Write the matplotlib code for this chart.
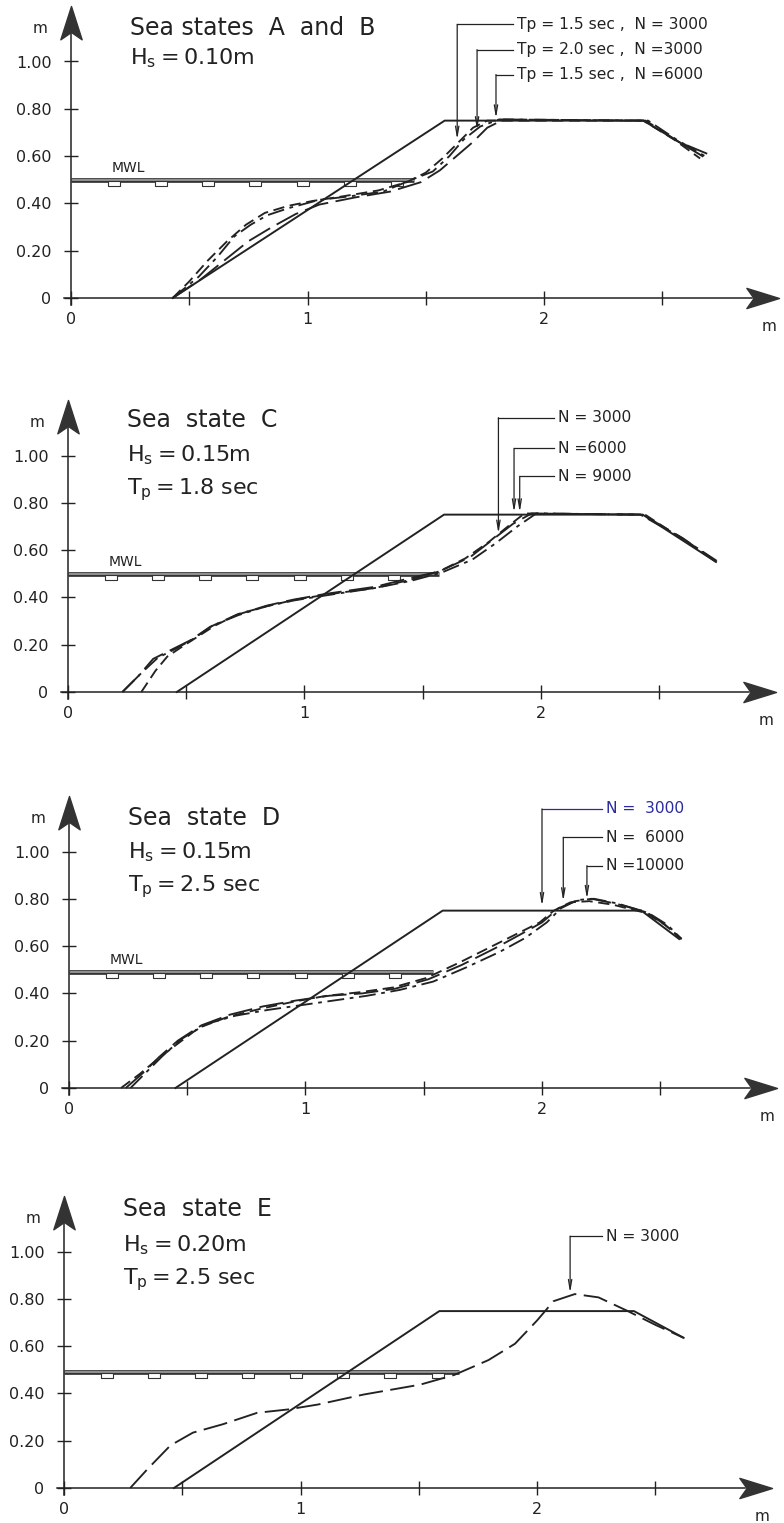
import numpy as np
import matplotlib
matplotlib.use('Agg')
import matplotlib.pyplot as plt
from matplotlib.path import Path

# ---------------- data (metres) ----------------
# Sea states A and B
ab_struct_x = [0.43, 1.58, 2.42, 2.67]
ab_struct_y = [0.0, 0.75, 0.75, 0.60]
ab_p1_x = [0.43, 0.50, 0.58, 0.66, 0.74, 0.82, 0.92, 1.02, 1.15, 1.30, 1.42, 1.50, 1.57, 1.64, 1.70, 1.76, 2.42, 2.55, 2.66]
ab_p1_y = [0.0, 0.07, 0.16, 0.24, 0.31, 0.36, 0.39, 0.41, 0.43, 0.455, 0.49, 0.53, 0.59, 0.66, 0.72, 0.75, 0.75, 0.67, 0.59]
ab_p2_x = [0.43, 0.54, 0.62, 0.69, 0.76, 0.83, 0.92, 1.05, 1.18, 1.32, 1.44, 1.53, 1.60, 1.66, 1.73, 1.81, 2.44, 2.56, 2.68]
ab_p2_y = [0.0, 0.09, 0.175, 0.26, 0.31, 0.35, 0.38, 0.415, 0.43, 0.45, 0.50, 0.535, 0.60, 0.67, 0.725, 0.755, 0.75, 0.67, 0.60]
ab_p3_x = [0.43, 0.55, 0.65, 0.75, 0.85, 0.95, 1.05, 1.20, 1.35, 1.48, 1.56, 1.63, 1.70, 1.76, 1.83, 2.43, 2.57, 2.69]
ab_p3_y = [0.0, 0.08, 0.16, 0.24, 0.30, 0.355, 0.395, 0.425, 0.45, 0.49, 0.54, 0.60, 0.66, 0.72, 0.755, 0.75, 0.66, 0.61]
ab_labels = ['Tp = 1.5 sec ,  N = 3000', 'Tp = 2.0 sec ,  N =3000', 'Tp = 1.5 sec ,  N =6000']
ab_lab_y = [1.157, 1.05, 0.945]
ab_lead_x = [1.633, 1.717, 1.797]
ab_tip_y = [0.67, 0.71, 0.76]

# Sea state C
c_struct_x = [0.46, 1.59, 2.43, 2.74]
c_struct_y = [0.0, 0.75, 0.75, 0.55]
c_p1_x = [0.23, 0.30, 0.36, 0.44, 0.52, 0.60, 0.71, 0.84, 0.95, 1.09, 1.30, 1.44, 1.57, 1.70, 1.79, 1.88, 1.96, 2.43, 2.60, 2.74]
c_p1_y = [0.0, 0.07, 0.14, 0.18, 0.22, 0.275, 0.325, 0.365, 0.39, 0.415, 0.445, 0.48, 0.51, 0.57, 0.64, 0.71, 0.755, 0.75, 0.65, 0.55]
c_p2_x = [0.31, 0.37, 0.42, 0.48, 0.55, 0.62, 0.72, 0.85, 0.96, 1.10, 1.30, 1.45, 1.57, 1.68, 1.78, 1.86, 1.93, 2.44, 2.60, 2.73]
c_p2_y = [0.0, 0.09, 0.15, 0.19, 0.235, 0.28, 0.33, 0.365, 0.39, 0.413, 0.44, 0.475, 0.51, 0.565, 0.635, 0.70, 0.755, 0.75, 0.645, 0.56]
c_p3_x = [0.23, 0.31, 0.38, 0.46, 0.53, 0.61, 0.72, 0.84, 0.96, 1.10, 1.30, 1.45, 1.58, 1.71, 1.81, 1.90, 1.98, 2.42, 2.59, 2.75]
c_p3_y = [0.0, 0.08, 0.145, 0.185, 0.225, 0.28, 0.325, 0.363, 0.388, 0.41, 0.44, 0.47, 0.505, 0.56, 0.63, 0.70, 0.755, 0.75, 0.655, 0.55]
c_labels = ['N = 3000', 'N =6000', 'N = 9000']
c_lab_y = [1.16, 1.03, 0.912]
c_lead_x = [1.82, 1.886, 1.91]
c_tip_y = [0.67, 0.76, 0.76]

# Sea state D
d_struct_x = [0.45, 1.58, 2.42, 2.58]
d_struct_y = [0.0, 0.75, 0.75, 0.63]
d_p1_x = [0.22, 0.30, 0.36, 0.45, 0.55, 0.67, 0.81, 0.95, 1.09, 1.23, 1.37, 1.51, 1.65, 1.79, 1.90, 1.99, 2.05, 2.12, 2.20, 2.30, 2.44, 2.52, 2.59]
d_p1_y = [0.0, 0.06, 0.11, 0.18, 0.255, 0.30, 0.335, 0.365, 0.39, 0.405, 0.425, 0.465, 0.53, 0.60, 0.655, 0.70, 0.75, 0.785, 0.79, 0.775, 0.74, 0.69, 0.63]
d_p2_x = [0.26, 0.33, 0.40, 0.48, 0.58, 0.70, 0.84, 0.98, 1.12, 1.26, 1.40, 1.54, 1.68, 1.82, 1.93, 2.02, 2.08, 2.15, 2.22, 2.32, 2.45, 2.53, 2.59]
d_p2_y = [0.0, 0.07, 0.14, 0.21, 0.27, 0.305, 0.33, 0.35, 0.37, 0.39, 0.415, 0.45, 0.51, 0.575, 0.635, 0.70, 0.76, 0.795, 0.80, 0.78, 0.74, 0.69, 0.63]
d_p3_x = [0.24, 0.32, 0.38, 0.46, 0.56, 0.68, 0.82, 0.96, 1.10, 1.24, 1.38, 1.52, 1.66, 1.80, 1.91, 2.00, 2.07, 2.14, 2.21, 2.31, 2.44, 2.52, 2.59]
d_p3_y = [0.0, 0.07, 0.13, 0.20, 0.265, 0.31, 0.345, 0.37, 0.39, 0.40, 0.42, 0.46, 0.52, 0.59, 0.65, 0.70, 0.76, 0.79, 0.80, 0.78, 0.745, 0.69, 0.63]
d_labels = ['N =  3000', 'N =  6000', 'N =10000']
d_lab_y = [1.18, 1.06, 0.94]
d_lead_x = [2.0, 2.09, 2.19]
d_tip_y = [0.77, 0.79, 0.80]

# Sea state E
e_struct_x = [0.465, 1.587, 2.41, 2.62]
e_struct_y = [0.0, 0.748, 0.748, 0.635]
e_p1_x = [0.28, 0.354, 0.45, 0.545, 0.673, 0.817, 0.946, 1.074, 1.266, 1.506, 1.65, 1.795, 1.907, 2.0, 2.07, 2.16, 2.26, 2.38, 2.50, 2.62]
e_p1_y = [0.0, 0.081, 0.18, 0.234, 0.27, 0.318, 0.332, 0.353, 0.395, 0.437, 0.478, 0.541, 0.61, 0.708, 0.79, 0.82, 0.806, 0.75, 0.69, 0.635]
e_labels = ['N = 3000']
e_lab_y = [1.065]
e_lead_x = [2.14]
e_tip_y = [0.825]

y_ticks = [0, 0.2, 0.4, 0.6, 0.8, 1.0]
y_ticklabels = ['0', '0.20', '0.40', '0.60', '0.80', '1.00']
x_ticks = [0, 1, 2]
x_minor = [0.5, 1.5, 2.5]

INK = '#222222'
DASH = (0, (6, 3))
DASHDOT = (0, (9, 3, 2, 3))
LONGDASH = (0, (13, 4))
TS = '\u2009'  # thin space

def hs(v):
    return r'$\mathregular{H_s}$' + TS + '=' + TS + v

def tp(v):
    return r'$\mathregular{T_p}$' + TS + '=' + TS + v

panels = [
    dict(ox=71, oy=298, struct=(ab_struct_x, ab_struct_y),
         profiles=[(ab_p1_x, ab_p1_y, DASH), (ab_p2_x, ab_p2_y, DASHDOT), (ab_p3_x, ab_p3_y, LONGDASH)],
         mwl=0.50, mwl_end=1.45, mwl_label=True,
         title=['Sea states  A  and  B', hs('0.10m')], title_y=[1.114, 0.987],
         labels=ab_labels, lab_y=ab_lab_y, lead_x=ab_lead_x, tip_y=ab_tip_y, text_x=1.886,
         colors=[INK, INK, INK]),
    dict(ox=68, oy=692, struct=(c_struct_x, c_struct_y),
         profiles=[(c_p1_x, c_p1_y, LONGDASH), (c_p2_x, c_p2_y, DASH), (c_p3_x, c_p3_y, DASHDOT)],
         mwl=0.50, mwl_end=1.57, mwl_label=True,
         title=['Sea  state  C', hs('0.15m'), tp('1.8 sec')],
         title_y=[1.12, 0.976, 0.835],
         labels=c_labels, lab_y=c_lab_y, lead_x=c_lead_x, tip_y=c_tip_y, text_x=2.07,
         colors=[INK, INK, INK]),
    dict(ox=69, oy=1088, struct=(d_struct_x, d_struct_y),
         profiles=[(d_p1_x, d_p1_y, DASH), (d_p2_x, d_p2_y, DASHDOT), (d_p3_x, d_p3_y, LONGDASH)],
         mwl=0.49, mwl_end=1.54, mwl_label=True,
         title=['Sea  state  D', hs('0.15m'), tp('2.5 sec')],
         title_y=[1.114, 0.97, 0.83],
         labels=d_labels, lab_y=d_lab_y, lead_x=d_lead_x, tip_y=d_tip_y, text_x=2.27,
         colors=['#2a2aa0', INK, INK]),
    dict(ox=64, oy=1488, struct=(e_struct_x, e_struct_y),
         profiles=[(e_p1_x, e_p1_y, LONGDASH)],
         mwl=0.49, mwl_end=1.67, mwl_label=False,
         title=['Sea  state  E', hs('0.20m'), tp('2.5 sec')],
         title_y=[1.15, 1.0, 0.862],
         labels=e_labels, lab_y=e_lab_y, lead_x=e_lead_x, tip_y=e_tip_y, text_x=2.29,
         colors=[INK]),
]

W, H = 784, 1523
SCALE = 236.5  # pixels per metre

# dart shaped arrow heads for the axes
x_head = Path([(0, 0), (-1, 0.31), (-0.78, 0), (-1, -0.31), (0, 0)],
              [Path.MOVETO, Path.LINETO, Path.LINETO, Path.LINETO, Path.CLOSEPOLY])
y_head = Path([(0, 0), (0.32, -1), (0, -0.78), (-0.32, -1), (0, 0)],
              [Path.MOVETO, Path.LINETO, Path.LINETO, Path.LINETO, Path.CLOSEPOLY])
mwl_box = Path([(-1, -0.45), (1, -0.45), (1, 0.45), (-1, 0.45), (-1, -0.45)],
               [Path.MOVETO, Path.LINETO, Path.LINETO, Path.LINETO, Path.CLOSEPOLY])

plt.rcParams['font.family'] = 'DejaVu Sans'
fig = plt.figure(figsize=(W / 100, H / 100), dpi=100)

for p in panels:
    ox, oy = p['ox'], p['oy']
    top = max(oy - 298, 0)
    bot = min(oy + 90, H)
    ax = fig.add_axes([0, 1 - bot / H, 1, (bot - top) / H])
    ax.set_xlim(-ox / SCALE, (W - ox) / SCALE)
    ax.set_ylim((oy - bot) / SCALE, (oy - top) / SCALE)

    # axes with arrows
    for s in ['top', 'right']:
        ax.spines[s].set_visible(False)
    ax.spines['left'].set_position(('data', 0))
    ax.spines['bottom'].set_position(('data', 0))
    ax.spines['left'].set_bounds(-0.03, 1.12)
    ax.spines['bottom'].set_bounds(-0.03, 2.88)
    for s in ['left', 'bottom']:
        ax.spines[s].set_linewidth(1.1)
        ax.spines[s].set_color(INK)
    ax.set_xticks(x_ticks)
    ax.set_xticks(x_minor, minor=True)
    ax.set_yticks(y_ticks)
    ax.set_yticklabels(y_ticklabels)
    ax.tick_params(which='both', direction='inout', length=10, width=1, colors=INK)
    ax.tick_params(axis='y', labelsize=11.5, pad=9)
    ax.tick_params(axis='x', labelsize=11.5, pad=5)
    ax.plot([2.995], [0], marker=x_head, markersize=47, color='#333333', clip_on=False, zorder=5)
    ax.plot([0], [1.235], marker=y_head, markersize=48, color='#333333', clip_on=False, zorder=5)
    ax.text(-0.13, 1.14, 'm', fontsize=11, color=INK, ha='center', va='center')
    ax.text(2.95, -0.12, 'm', fontsize=11, color=INK, ha='center', va='center')

    # mean water level
    ax.plot([0, p['mwl_end']], [p['mwl']] * 2, color='#333333', lw=3.4, solid_capstyle='butt', zorder=2)
    ax.plot([0, p['mwl_end']], [p['mwl']] * 2, color='#9a9a9a', lw=1.3, solid_capstyle='butt', zorder=2)
    marks = np.arange(0.18, p['mwl_end'] - 0.05, 0.2)
    ax.plot(marks, np.full(len(marks), p['mwl'] - 0.012), ls='none', marker=mwl_box,
            markersize=8, mfc='white', mec='#333333', mew=0.8, zorder=3)
    if p['mwl_label']:
        ax.text(0.17, p['mwl'] + 0.02, 'MWL', fontsize=10, color=INK, va='bottom', ha='left')

    # original structure and measured profiles
    sx, sy = p['struct']
    ax.plot(sx, sy, color=INK, lw=1.4, zorder=4)
    for px, py, ls in p['profiles']:
        ax.plot(px, py, color=INK, lw=1.35, ls=ls, zorder=4)

    # titles
    for txt, ty, fs in zip(p['title'], p['title_y'], [17, 16, 16]):
        ax.text(0.25, ty, txt, fontsize=fs, color=INK, ha='left', va='baseline')

    # leader labels
    for lab, ly, lx, ty, col in zip(p['labels'], p['lab_y'], p['lead_x'], p['tip_y'], p['colors']):
        ax.plot([lx, p['text_x'] - 0.015], [ly, ly], color=col, lw=0.9, zorder=4)
        ax.annotate('', xy=(lx, ty), xytext=(lx, ly),
                    arrowprops=dict(arrowstyle='->,head_length=0.7,head_width=0.12',
                                    color=INK, lw=0.9, shrinkA=0, shrinkB=0), zorder=4)
        ax.text(p['text_x'], ly, lab, fontsize=11.2, color=col, ha='left', va='center')

fig.savefig('out.png', dpi=100)
